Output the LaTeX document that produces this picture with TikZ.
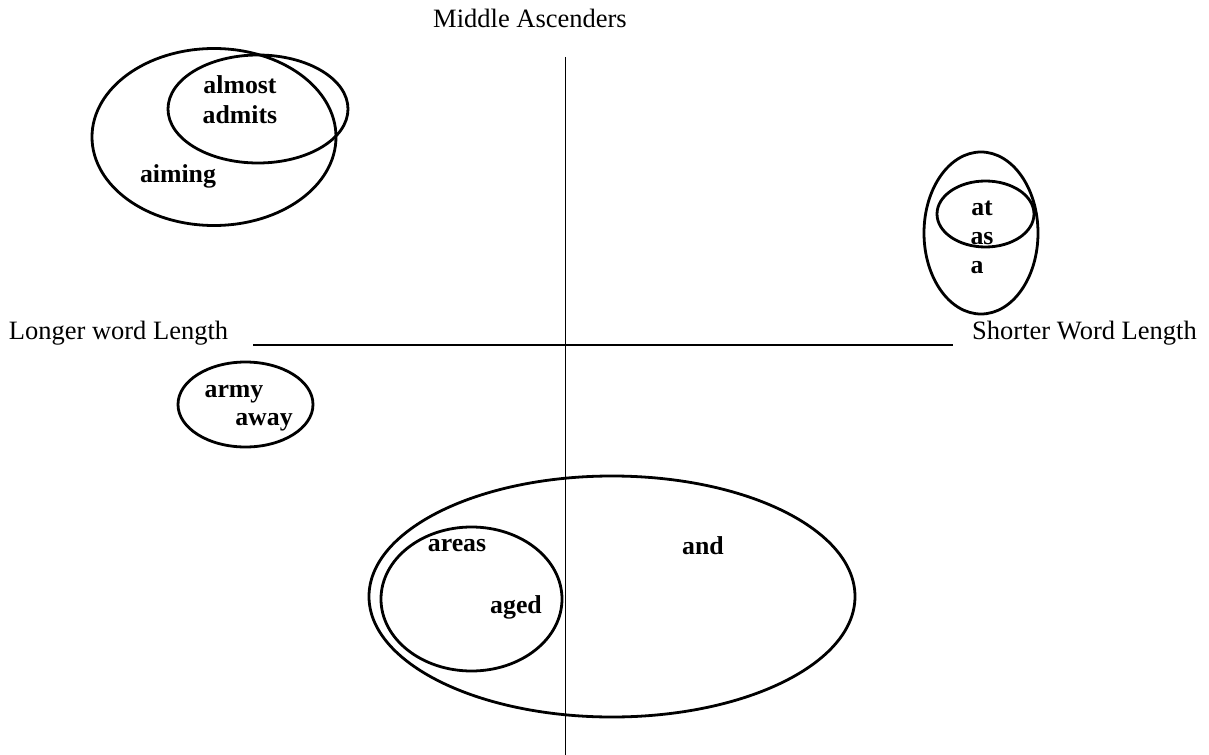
\documentclass[tikz,border=0pt]{standalone}
\usepackage{fontspec}
\setmainfont{Liberation Serif}
\usetikzlibrary{shapes.geometric}
\begin{document}
\begin{tikzpicture}[x=1bp,y=-1bp,
  set/.style={ellipse, draw, line width=2.8bp, inner sep=0pt, outer sep=0pt},
  word/.style={font=\bfseries\fontsize{25.8bp}{28bp}\selectfont, inner sep=0pt},
  axislabel/.style={font=\fontsize{26.5bp}{30bp}\selectfont, inner sep=0pt},
  axis/.style={line width=1.3bp}]
\useasboundingbox (0,0) rectangle (1209,755);

% axes
\coordinate (vtop) at (565.5,57);
\coordinate (vbot) at (565.5,755);
\coordinate (hleft) at (253,345);
\coordinate (hright) at (953,345);
\draw[axis] (vtop) -- (vbot);
\draw[axis] (hleft) -- (hright);

% axis labels
\node[axislabel] (ascenders) at (530,18) {Middle Ascenders};
\node[axislabel] (longer) at (118.5,333) {Longer word Length};
\node[axislabel] (shorter) at (1084.5,333) {Shorter Word Length};

% upper left group
\node[set, minimum width=244bp, minimum height=177bp] (setaiming) at (214,137) {};
\node[set, minimum width=180bp, minimum height=108bp] (setalmost) at (258,109) {};
\node[word] (almost) at (240,85) {almost};
\node[word] (admits) at (240,115) {admits};
\node[word] (aiming) at (178,176) {aiming};

% upper right group
\node[set, minimum width=114bp, minimum height=162bp] (seta) at (981,233) {};
\node[set, minimum width=97bp, minimum height=66bp] (setat) at (985.5,214) {};
\node[word] (at) at (982,208) {at};
\node[word] (as) at (982,239) {as};
\node[word] (a) at (977,268) {a};

% lower left group
\node[set, minimum width=135bp, minimum height=85bp] (setarmy) at (245.5,404.5) {};
\node[word] (army) at (234,394) {army};
\node[word] (away) at (264,422) {away};

% lower group
\node[set, minimum width=486bp, minimum height=241bp] (setand) at (612,596.5) {};
\node[set, minimum width=181bp, minimum height=144bp] (setareas) at (471.5,599) {};
\node[word] (areas) at (457,546) {areas};
\node[word] (aged) at (516,607) {aged};
\node[word] (and) at (703,546) {and};
\end{tikzpicture}
\end{document}
